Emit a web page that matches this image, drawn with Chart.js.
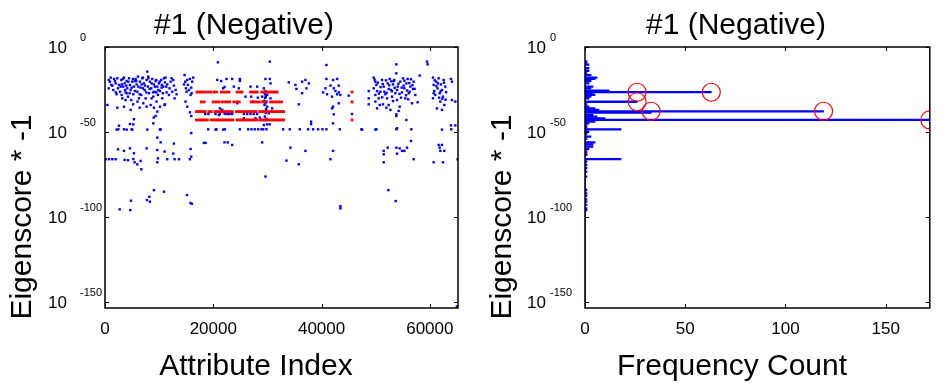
<!DOCTYPE html>
<html>
<head>
<meta charset="utf-8">
<script src="https://cdn.jsdelivr.net/npm/chart.js@4/dist/chart.umd.min.js"></script>
<style>
  html, body { margin: 0; padding: 0; background: #fff; }
  #lienzo { position: relative; width: 940px; height: 383px; }
  .panel { position: absolute; top: 0; }
</style>
</head>
<body>
<div id="lienzo">
  <canvas id="graficaAtributos" class="panel" style="left:0" width="470" height="383"></canvas>
  <canvas id="graficaFrecuencia" class="panel" style="left:470px" width="470" height="383"></canvas>
</div>
<script>
// ─────────────────────────────────────────
// DATOS  (eje y = exponente de Eigenscore * -1, es decir log10)
// ─────────────────────────────────────────

const titulo = "#1 (Negative)";
const ticksExp = [0, -50, -100, -150];
const ticksAtributo = [0, 20000, 40000, 60000];
const ticksFrecuencia = [0, 50, 100, 150];

// puntos azules [indice de atributo, exponente]
const azulIzquierda = [
  [700,-19.4],[680,-24.3],[920,-20.4],[1660,-18.8],[1970,-21.4],[2280,-18.4],[2400,-24.3],[2580,-22.3],
  [2770,-26.3],[3010,-19.4],[3200,-30.2],[3380,-23.3],[3500,-18.0],[3630,-21.4],[3810,-26.7],[4000,-20.0],
  [4120,-24.3],[4240,-29.2],[4430,-18.4],[4610,-22.3],[4740,-25.3],[4860,-31.2],[5040,-20.4],[5230,-27.8],
  [5350,-23.3],[5660,-18.8],[5840,-22.0],[5970,-26.3],[6090,-17.4],[6270,-30.2],[6460,-20.4],[6580,-23.9],
  [6700,-28.2],[6890,-18.4],[7070,-33.1],[7200,-21.4],[7320,-25.3],[7500,-30.2],[7690,-19.4],[7810,-14.5],
  [7930,-23.3],[8120,-27.2],[8300,-20.4],[8430,-34.1],[8550,-24.3],[8730,-18.8],[8920,-29.2],[9040,-22.0],
  [9160,-26.3],[9350,-20.0],[9530,-32.1],[9660,-23.3],[9780,-28.2],[9960,-21.4],[10150,-25.9],[10390,-19.4],
  [10580,-30.2],[10760,-23.3],[10890,-18.4],[11010,-34.1],[11190,-18.0],[11380,-26.7],[11810,-28.2],
  [12120,-20.4],[12420,-26.3],[12610,-19.4],[12850,-30.2],[13040,-25.3],
  [430,-34.1],[2280,-35.7],[3500,-35.1],[4740,-37.0],[7690,-35.1],[9040,-35.7],[10150,-35.1],[11070,-33.7],
  [1350,-22.7],[2000,-26.7],[3100,-22.0],[4000,-27.2],[5500,-20.0],[6000,-32.1],[7000,-24.3],[8000,-17.4],
  [8600,-30.2],[9500,-26.7],[10500,-22.3],[11500,-22.0],[6400,-35.7],[5200,-33.7],[3800,-31.2],
  [1050,-18.0],[1170,-22.3],[1540,-25.3],[1850,-20.0],[2150,-27.8],[2890,-23.3],[3070,-28.2],[3320,-18.8],
  [3690,-25.3],[3940,-22.7],[4310,-20.4],[4550,-27.2],[4920,-23.9],[5170,-18.8],[5540,-25.9],[5780,-20.0],
  [6150,-23.3],[6400,-27.8],[6770,-22.0],[7010,-18.0],[7380,-22.7],[7630,-26.7],[8000,-18.4],[8240,-24.7],
  [8610,-21.4],[8860,-26.7],[9230,-23.3],[9470,-19.4],[9840,-25.3],[10090,-20.4],[10460,-23.9],[10700,-27.2],
  [11070,-20.8],[11320,-23.3],[11930,-24.3],[12300,-18.4],[12730,-22.7],[13220,-27.8]
];

const azulIzquierdaBajo = [
  [9660,-38.0],[9350,-40.6],[8920,-44.9],[5350,-42.5],[2580,-46.3],[4610,-45.3],[5230,-45.5],[9000,-41.5],
  [2150,-48.6],[2460,-48.4],[3500,-48.4],[4000,-48.6],[4920,-48.4],[5040,-48.6],[7810,-48.6],[10150,-48.6],
  [10270,-48.4],[9660,-53.3],[10270,-56.1],[12730,-56.8],[15930,-50.6],
  [2400,-60.2],[3500,-61.1],[4610,-59.6],[5350,-62.5],[3630,-66.4],[4240,-66.6],[5230,-65.9],[5470,-67.8],
  [5970,-69.0],[6580,-67.0],[6700,-71.9],[7690,-59.6],[9660,-60.6],[9780,-65.5],[9660,-67.8],[11010,-61.5],
  [11500,-66.0],[12610,-62.7],[12850,-66.0],[13650,-66.0],[15810,-60.0],[15930,-64.5],[15680,-66.0],
  [120,-66.0],[740,-66.0],[1350,-66.0],[1970,-66.0],
  [9040,-84.2],[10890,-85.1],[8180,-88.1],[4800,-90.4],[7750,-90.0],[8300,-91.0],[15130,-87.1],
  [15800,-91.8],[16050,-92.2],[2710,-95.5],[4670,-95.9]
];

const azulGrupo2 = [
  [14700,-16.5],[14820,-20.4],[14940,-24.3],[15070,-26.3],[15190,-19.4],[15310,-22.3],[15500,-25.3],
  [15680,-18.8],[15810,-28.2],[15930,-23.9],[16110,-20.4],[16300,-18.0],[15190,-35.1],[15680,-38.4],
  [15930,-40.6],[14880,-32.1],[16000,-27.2],[14600,-22.0]
];

const azulCentro = [
  [18270,-56.4],[18570,-56.4],[20420,-48.6],[21830,-48.6],[21650,-37.0],[20730,-19.4],[20850,-9.0],
  [21460,-20.0],[21830,-24.3],[21220,-36.1],[22080,-39.0],[21030,-40.0],
  [30440,-8.6],[40900,-10.6],[22450,-18.8],[23490,-18.8],[24910,-18.8],[24910,-20.0],[29640,-18.8],
  [30440,-18.8],[30570,-21.4],[33950,-20.8],[35180,-22.3],[36410,-20.4],[37020,-19.4],[37640,-21.4],
  [37210,-24.3],[35360,-24.7],[36410,-27.2],[35790,-33.7],[38070,-43.9],[38070,-45.3],[40900,-18.8],
  [42130,-19.4],[42870,-18.8],[43170,-22.7],[41640,-22.7],[42250,-24.3],[42560,-25.9],[43170,-26.7],
  [40280,-26.7],[40710,-24.3],[41020,-27.8],[41940,-29.2],[42870,-27.8],[43480,-28.2],[43170,-33.1],
  [42130,-35.1],[41940,-36.1],[42250,-39.6],[42130,-44.9],
  [23800,-23.3],[22080,-23.5],[24720,-24.3],[24415,-33.1],[25950,-29.2],[26880,-23.3],[28110,-23.3],
  [27000,-29.2],[28230,-29.8],[27370,-32.1],[29950,-35.1],[29030,-29.2],[29340,-31.7],[29640,-33.1],
  [29340,-24.3],[29640,-25.9],[29950,-28.2],[30570,-30.2],[30870,-36.1],[30260,-39.0],[29640,-42.9],
  [29950,-45.5],[30440,-45.5],[29340,-45.9],[25650,-41.9],[27800,-41.9],[28600,-41.5],
  [29460,-26.7],[29700,-29.2],[29580,-30.0],[29830,-32.1],[29460,-34.1],[29770,-36.5],[29640,-37.6],
  [29520,-40.9],[29830,-42.3],[29700,-38.8],[29580,-27.8],
  [22260,-39.4],[22690,-39.4],[23000,-39.4],[23490,-39.4],[25650,-39.4],[26260,-39.4],[26880,-39.4],
  [27490,-39.4],[28110,-39.4],[18500,-39.4],[19100,-39.4],[20400,-39.4],[21200,-39.4],
  [19070,-48.4],[20600,-48.4],[22140,-48.4],[24910,-48.4],[26450,-48.4],[27060,-48.4],[27680,-48.4],
  [28290,-48.4],[28910,-48.4],[29210,-48.4],[29830,-48.4],[32900,-48.4],[34130,-48.4],[35980,-48.4],
  [37520,-48.4],[38440,-48.4],[39360,-48.4],[40160,-48.4],[40900,-48.4],[43360,-48.4],
  [22080,-56.1],[22690,-56.1],[23490,-57.6],[29030,-56.1],[34260,-59.2],[37020,-61.1],[33520,-66.8],
  [35790,-69.0],[41640,-66.0],[42130,-61.1],[29640,-76.2],[43480,-93.6],[43480,-94.9]
];

const azulDerecha = [
  [45020,-28.6],[45630,-39.4],[47480,-48.6],[48710,-25.9],[48710,-30.2],[48710,-33.7],[49940,-48.6],
  [53810,-10.2],[53810,-15.5],[59470,-8.6],[59590,-10.2],[58120,-16.8],
  [49630,-18.0],[49940,-20.4],[50120,-22.3],[49630,-24.3],[50250,-25.9],[49940,-28.2],[50550,-30.2],
  [49940,-32.1],[50740,-34.1],[50250,-36.1],[51170,-19.4],[51480,-23.3],[51780,-27.8],[52090,-30.2],
  [51350,-33.7],[52210,-21.4],[52580,-18.8],[52830,-25.3],[53020,-29.2],[53200,-22.0],[53440,-19.4],
  [53630,-27.2],[53940,-31.2],[54060,-23.3],[54430,-35.1],[54550,-20.4],[54860,-26.7],[55040,-18.4],
  [55290,-24.3],[55470,-30.2],[55660,-21.4],[55900,-18.8],[56090,-27.2],[56400,-23.3],[56700,-33.1],
  [57010,-20.4],[57320,-28.2],[57750,-32.5],[53810,-39.6],[54240,-37.6],[55660,-42.9],[53810,-40.6],
  [52710,-37.0],[52400,-34.1],[51600,-26.3],[52400,-24.7],[53320,-20.0],[54670,-29.8],[56270,-26.3],
  [55170,-22.7],[53940,-25.3],[56520,-19.0],[51970,-35.7],[50860,-26.3],[56890,-24.7],
  [49800,-19.2],[50400,-21.0],[50900,-23.6],[51300,-21.8],[51900,-19.6],[52500,-22.5],[52900,-20.2],
  [53500,-24.0],[54200,-21.6],[54800,-23.9],[55300,-19.8],[55800,-25.6],[56200,-21.2],[56800,-22.4],
  [57200,-24.6],[52000,-27.0],[53000,-26.0],[54400,-27.6],[55600,-28.4],[50600,-27.4],[51200,-29.6],
  [56000,-30.8],[53200,-31.8],
  [60580,-18.0],[60700,-22.3],[60820,-25.9],[61010,-28.2],[60580,-30.2],[61190,-20.4],[61440,-24.3],
  [61620,-18.4],[61810,-27.2],[61930,-32.1],[62050,-22.0],[62240,-25.3],[62420,-29.2],[62550,-19.4],
  [62670,-34.1],[62860,-23.3],[61310,-36.1],[62240,-37.0],[63900,-18.8],[64090,-20.4],[64090,-31.2],
  [64700,-32.1],[64700,-46.1],[63900,-46.1],
  [60900,-19.6],[61500,-21.4],[62000,-26.0],[62600,-21.0],[63000,-26.6],[61200,-23.0],[60700,-27.2],
  [62300,-30.4],[61700,-29.8],[62900,-31.0],
  [47360,-48.4],[50120,-48.4],[53810,-48.4],[56580,-48.4],[63960,-48.4],[53940,-47.8],[62240,-48.6],
  [56520,-55.3],[52210,-59.2],[53810,-59.2],[54430,-59.6],[55780,-59.2],[55290,-61.1],[54860,-61.1],
  [51480,-61.1],[51480,-63.1],[53940,-62.7],[61620,-57.6],[62240,-57.6],[61810,-59.2],[61930,-61.1],
  [62670,-61.1],[51480,-67.8],[57010,-66.0],[60700,-67.8],[62420,-67.8],[65130,-66.0],
  [52340,-84.2],[53690,-90.6],[65000,-152.6]
];

// puntos rojos: cuatro filas de exponente
const rojoExp = [-26.5, -32.3, -38.0, -42.9];
const rojoFilaA = [17000,17500,18000,18500,19000,19500,20100,20600,21500,22000,22500,22900,24400,24900,
  25300,26900,27300,27700,28100,29000,29400,29800,30200,30600,31000,31400,31800,45630];
const rojoFilaB = [17800,18300,20000,20500,21000,21600,22100,22600,23000,23800,24300,24800,27000,27500,
  28000,28500,29100,29600,30600,31100,31600,32100,32600,45630];
const rojoFilaC = [16900,17300,17700,18100,18500,19200,19600,20300,20700,21100,21500,21900,22300,22700,
  23100,23500,24300,24700,25100,25500,25900,26300,26700,27100,27500,27900,28600,29000,29400,29800,30200,
  30600,31000,31400,31800,32200,32600,33000];
const rojoFilaD = [16900,17300,17700,18100,18500,18900,19600,20000,20400,20800,21200,21600,22000,22400,
  22800,23200,23600,24400,24800,25200,25600,26000,26400,26800,27200,27600,28000,28600,29000,29400,29800,
  30200,30600,31000,31400,31800,32200,32600,33000,45630];

// histograma: [exponente, frecuencia]
const histograma = [
  [-8.4,1],[-9.2,1],[-10.4,2],[-12.5,2],[-14.1,2],[-15.5,1],[-16.5,3],[-18.0,6],[-18.8,5],[-20.0,3],
  [-21.4,2],[-23.3,4],[-24.3,3],[-25.7,12],[-26.6,63],[-27.2,4],[-28.2,5],[-29.2,3],[-30.2,2],[-32.2,26],
  [-33.7,1],[-35.1,2],[-36.1,5],[-37.0,7],[-37.8,119],[-38.6,33],[-40.0,4],[-41.0,6],[-42.0,10],[-42.9,172],
  [-43.9,5],[-44.9,2],[-46.3,1],[-47.4,1],[-48.4,18],[-49.8,2],[-51.3,1],[-52.7,3],[-54.1,1],[-56.1,5],
  [-57.2,4],[-58.6,4],[-60.0,2],[-61.5,1],[-62.5,1],[-63.5,1],[-66.0,18],[-67.4,1],[-69.4,1],[-71.3,1],
  [-73.3,1],[-76.3,1],[-84.1,1],[-86.1,1],[-87.6,1],[-89.6,1],[-91.0,1],[-92.9,1],[-94.9,1],[-95.9,1]
];

// circulos rojos: [frecuencia, exponente]
const circulos = [[26,-26.6],[63,-26.6],[26,-32.2],[33,-37.8],[119,-37.8],[172,-42.9]];

// linea base del histograma (exponente arriba / abajo)
const baseExp = [-8.4, -153.5];

const rangoExp = { min: -153.5, max: 0 };

// ─────────────────────────────────────────
// MARCO ESTILO MATLAB (caja, ticks, textos)
// ─────────────────────────────────────────

const FUENTE = "'Liberation Sans', Arial, Helvetica, sans-serif";

function marcoMatlab(cfg) {
  return {
    id: "marco_" + cfg.nombre,
    afterDraw(chart) {
      const { ctx, chartArea: a } = chart;
      const sx = chart.scales.x, sy = chart.scales.y;
      ctx.save();

      // ticks hacia dentro
      ctx.strokeStyle = "#000";
      ctx.lineWidth = 1;
      ctx.beginPath();
      cfg.ticksX.forEach(v => {
        const px = Math.round(sx.getPixelForValue(v)) + 0.5;
        ctx.moveTo(px, a.bottom); ctx.lineTo(px, a.bottom - 4);
        ctx.moveTo(px, a.top);    ctx.lineTo(px, a.top + 4);
      });
      ticksExp.forEach(e => {
        const py = Math.round(sy.getPixelForValue(e)) + 0.5;
        ctx.moveTo(a.left, py);  ctx.lineTo(a.left + 4, py);
        ctx.moveTo(a.right, py); ctx.lineTo(a.right - 4, py);
      });
      ctx.stroke();

      ctx.lineWidth = 1.5;
      ctx.strokeRect(a.left, a.top, a.right - a.left, a.bottom - a.top);

      // etiquetas del eje x
      ctx.fillStyle = "#000";
      ctx.font = "17px " + FUENTE;
      ctx.textAlign = "center";
      ctx.textBaseline = "alphabetic";
      cfg.ticksX.forEach(v => ctx.fillText(String(v), sx.getPixelForValue(v), 334));

      // etiquetas del eje y: 10 con exponente
      ticksExp.forEach(e => {
        const py = sy.getPixelForValue(e);
        ctx.textAlign = "left";
        ctx.font = "17px " + FUENTE;
        ctx.fillText("10", cfg.diezX, py + 6);
        ctx.font = "11px " + FUENTE;
        ctx.fillText(String(e), cfg.expX, py - 6);
      });

      // titulo y nombres de ejes
      ctx.font = "30px " + FUENTE;
      ctx.textAlign = "center";
      ctx.fillText(titulo, cfg.tituloX, 34);
      ctx.fillText(cfg.nombreX, cfg.nombreXx, 375);

      ctx.translate(a.left - 74, 217);
      ctx.rotate(-Math.PI / 2);
      ctx.fillText("Eigenscore * -1", 0, 0);

      ctx.restore();
    }
  };
}

function escalas(xMax, anchoY) {
  return {
    x: {
      type: "linear", min: 0, max: xMax, offset: false,
      ticks: { display: false }, grid: { display: false, offset: false }, border: { display: false },
      afterFit: s => { s.height = 75; }
    },
    y: {
      type: "linear", min: rangoExp.min, max: rangoExp.max, offset: false,
      ticks: { display: false }, grid: { display: false, offset: false }, border: { display: false },
      afterFit: s => { s.width = anchoY; }
    }
  };
}

const opcionesBase = {
  responsive: false,
  animation: false,
  events: [],
  plugins: { legend: { display: false }, tooltip: { enabled: false } }
};

// ─────────────────────────────────────────
// GRAFICA IZQUIERDA: eigenscore por atributo
// ─────────────────────────────────────────

const azules = [].concat(azulIzquierda, azulIzquierdaBajo, azulGrupo2, azulCentro, azulDerecha)
  .map(p => ({ x: p[0], y: p[1] }));

const rojos = [];
[rojoFilaA, rojoFilaB, rojoFilaC, rojoFilaD].forEach((fila, i) => {
  fila.forEach(x => rojos.push({ x, y: rojoExp[i] }));
});

new Chart(document.getElementById("graficaAtributos"), {
  type: "scatter",
  data: {
    datasets: [
      { data: rojos, pointStyle: "rect", pointRadius: 2.0, backgroundColor: "#ff0000", borderWidth: 0 },
      { data: azules, pointStyle: "rect", pointRadius: 1.7, backgroundColor: "#0000ff", borderWidth: 0 }
    ]
  },
  options: {
    ...opcionesBase,
    layout: { padding: { top: 47, right: 12, left: 0, bottom: 0 } },
    scales: escalas(65200, 105)
  },
  plugins: [marcoMatlab({
    nombre: "atributos", ticksX: ticksAtributo, diezX: 48, expX: 80,
    tituloX: 244, nombreX: "Attribute Index", nombreXx: 256
  })]
});

// ─────────────────────────────────────────
// GRAFICA DERECHA: histograma de frecuencias
// ─────────────────────────────────────────

new Chart(document.getElementById("graficaFrecuencia"), {
  type: "scatter",
  data: {
    datasets: [
      {
        data: circulos.map(c => ({ x: c[0], y: c[1] })),
        pointStyle: "circle", pointRadius: 9,
        borderColor: "#ff0000", borderWidth: 1.2, backgroundColor: "rgba(0,0,0,0)",
        clip: 0
      },
      {
        type: "line",
        data: baseExp.map(e => ({ x: 0, y: e })),
        borderColor: "#0000ff", borderWidth: 1.5, pointRadius: 0
      },
      {
        type: "bar",
        indexAxis: "y",
        data: histograma.map(h => ({ x: h[1], y: h[0] })),
        backgroundColor: "#0000ff",
        barThickness: 1.6,
        clip: 0
      }
    ]
  },
  options: {
    ...opcionesBase,
    layout: { padding: { top: 47, right: 2, left: 0, bottom: 0 } },
    scales: escalas(172, 115)
  },
  plugins: [marcoMatlab({
    nombre: "frecuencia", ticksX: ticksFrecuencia, diezX: 57, expX: 80,
    tituloX: 266, nombreX: "Frequency Count", nombreXx: 262
  })]
});
</script>
</body>
</html>
